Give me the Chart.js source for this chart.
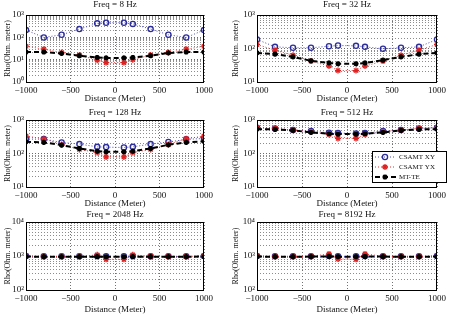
<!DOCTYPE html>
<html>
<head>
<meta charset="utf-8">
<script src="https://cdn.jsdelivr.net/npm/chart.js@4/dist/chart.umd.min.js"></script>
<style>
  html, body { margin: 0; padding: 0; background: #fff; }
  #wrap { position: relative; width: 449px; height: 319px; overflow: hidden; }
  .panel { position: absolute; }
</style>
</head>
<body>
<div id="wrap"></div>
<script>
// --- data ---
const stations = [-1000, -800, -600, -400, -200, -100, 100, 200, 400, 600, 800, 1000];
const freqs = [8, 32, 128, 512, 2048, 8192];
const seriesNames = ["CSAMT XY", "CSAMT YX", "MT-TE"];
const xTicks = [-1000, -500, 0, 500, 1000];
const yMinExp = [0, 1, 1, 1, 2, 2];
const yMaxExp = [3, 3, 3, 3, 4, 4];

// apparent resistivity, one row per frequency
const rhoXY = [
  [211, 99, 130, 234, 422, 452, 452, 400, 234, 130, 99, 211],
  [186, 112, 105, 105, 117, 123, 120, 112, 98, 105, 112, 186],
  [269, 269, 214, 191, 158, 155, 151, 158, 191, 220, 265, 280],
  [589, 562, 501, 468, 417, 407, 398, 407, 468, 501, 562, 589],
  [1000, 980, 980, 990, 1000, 980, 980, 1000, 990, 980, 980, 1000],
  [1000, 980, 980, 990, 1000, 980, 980, 1000, 990, 980, 980, 1000]
];
const rhoYX = [
  [40, 29.5, 21, 16, 9.5, 7.4, 7.4, 10, 16, 21, 29.5, 40],
  [132, 89, 63, 42, 30, 22, 22, 30, 42, 63, 89, 132],
  [331, 275, 186, 132, 107, 79, 79, 107, 132, 186, 275, 331],
  [603, 562, 501, 447, 372, 282, 282, 372, 447, 501, 562, 603],
  [1020, 960, 960, 970, 1080, 800, 800, 1080, 970, 960, 960, 1020],
  [1020, 960, 960, 980, 1150, 820, 800, 1150, 980, 960, 960, 1020]
];
const rhoTE = [
  [22, 22, 19, 15, 12.5, 12, 12, 12.5, 15, 20, 22, 22],
  [74, 68, 56, 43, 37, 35, 35, 37, 45, 56, 68, 74],
  [224, 214, 178, 141, 117, 112, 112, 117, 141, 182, 214, 230],
  [537, 525, 490, 427, 389, 380, 380, 389, 427, 490, 525, 537],
  [960, 955, 955, 955, 955, 950, 950, 955, 955, 955, 955, 960],
  [960, 955, 955, 960, 970, 955, 955, 965, 960, 955, 955, 960]
];

// --- layout: canvas box and plot area for each panel (page px) ---
const boxes = [
  { cx: 0,   cy: 0,   cw: 224, ch: 105, L: 26,  T: 15,  R: 204, B: 82 },
  { cx: 225, cy: 0,   cw: 224, ch: 105, L: 257, T: 15,  R: 438, B: 82 },
  { cx: 0,   cy: 105, cw: 224, ch: 105, L: 26,  T: 120, R: 204, B: 187 },
  { cx: 225, cy: 105, cw: 224, ch: 105, L: 257, T: 120, R: 438, B: 187 },
  { cx: 0,   cy: 210, cw: 224, ch: 109, L: 26,  T: 222, R: 204, B: 290 },
  { cx: 225, cy: 210, cw: 224, ch: 109, L: 257, T: 222, R: 438, B: 290 }
];

const FONT = '"Liberation Serif", "Times New Roman", serif';
Chart.defaults.font.family = FONT;
Chart.defaults.color = "#111";

const SUP = { "0": "\u2070", "1": "\u00b9", "2": "\u00b2", "3": "\u00b3", "4": "\u2074" };
const isPow10 = v => Math.abs(Math.log10(v) - Math.round(Math.log10(v))) < 1e-9;

function drawMarker(ctx, ds, x, y) {
  ctx.save();
  ctx.strokeStyle = ds.pointBorderColor;
  ctx.fillStyle = ds.pointBackgroundColor;
  ctx.lineWidth = ds.pointBorderWidth;
  if (Chart.helpers && Chart.helpers.drawPoint) {
    Chart.helpers.drawPoint(ctx, { pointStyle: ds.pointStyle, radius: ds.pointRadius, rotation: 0, borderWidth: ds.pointBorderWidth }, x, y);
  } else {
    ctx.beginPath();
    ctx.arc(x, y, ds.pointRadius, 0, Math.PI * 2);
    ctx.fill();
    ctx.stroke();
  }
  ctx.restore();
}

// box, panel title and (optional) legend
const framePlugin = {
  id: "frame",
  afterDraw(chart, args, opts) {
    const { ctx, chartArea: a } = chart;
    ctx.save();
    ctx.strokeStyle = "#000";
    ctx.lineWidth = 1;
    ctx.strokeRect(Math.round(a.left) + 0.5, Math.round(a.top) + 0.5,
      Math.round(a.right - a.left) - 1, Math.round(a.bottom - a.top));
    ctx.fillStyle = "#111";
    ctx.font = "9px " + FONT;
    ctx.textAlign = "center";
    ctx.textBaseline = "middle";
    ctx.fillText(opts.title, (a.left + a.right) / 2, a.top - opts.titleGap);

    if (opts.legend) {
      const lg = opts.legend;
      ctx.fillStyle = "#fff";
      ctx.fillRect(lg.x, lg.y, lg.w, lg.h);
      ctx.strokeStyle = "#000";
      ctx.strokeRect(lg.x + 0.5, lg.y + 0.5, lg.w, lg.h);
      ctx.font = "7px " + FONT;
      ctx.textAlign = "left";
      [0, 1, 2].forEach((k, i) => {
        const ds = chart.data.datasets[k];
        const ry = lg.y + 6 + i * 10;
        ctx.save();
        ctx.strokeStyle = ds.borderColor;
        ctx.lineWidth = ds.borderWidth;
        ctx.setLineDash(ds.borderDash);
        ctx.beginPath();
        ctx.moveTo(lg.x + 3, ry);
        ctx.lineTo(lg.x + 24, ry);
        ctx.stroke();
        ctx.restore();
        drawMarker(ctx, ds, lg.x + 13, ry);
        ctx.fillStyle = "#111";
        ctx.fillText(ds.label, lg.x + 27, ry);
      });
    }
    ctx.restore();
  }
};

const wrap = document.getElementById("wrap");

freqs.forEach((f, i) => {
  const b = boxes[i];
  const div = document.createElement("div");
  div.className = "panel";
  div.style.left = b.cx + "px";
  div.style.top = b.cy + "px";
  const cv = document.createElement("canvas");
  cv.width = b.cw;
  cv.height = b.ch;
  cv.style.width = b.cw + "px";
  cv.style.height = b.ch + "px";
  div.appendChild(cv);
  wrap.appendChild(div);

  const yTickVals = [];
  for (let e = yMinExp[i]; e < yMaxExp[i]; e++) {
    for (let s = 1; s < 10; s++) yTickVals.push(s * Math.pow(10, e));
  }
  yTickVals.push(Math.pow(10, yMaxExp[i]));

  const xyPts = stations.map((x, k) => ({ x, y: rhoXY[i][k] }));
  const yxPts = stations.map((x, k) => ({ x, y: rhoYX[i][k] }));
  const tePts = stations.map((x, k) => ({ x, y: rhoTE[i][k] }));

  new Chart(cv, {
    type: "line",
    data: {
      datasets: [
        {
          label: seriesNames[0],
          data: xyPts,
          order: 2,
          borderColor: "#4a4ab0",
          borderWidth: 1,
          borderDash: [1, 2],
          pointStyle: "circle",
          pointRadius: 2.6,
          pointBorderWidth: 1.3,
          pointBorderColor: "#2c2c9c",
          pointBackgroundColor: "rgba(255,255,255,0)"
        },
        {
          label: seriesNames[1],
          data: yxPts,
          order: 1,
          borderColor: "#e03030",
          borderWidth: 1,
          borderDash: [1, 2],
          pointStyle: "star",
          pointRadius: 3,
          pointBorderWidth: 1.3,
          pointBorderColor: "#e02020",
          pointBackgroundColor: "#e02020"
        },
        {
          label: seriesNames[2],
          data: tePts,
          order: 0,
          borderColor: "#000",
          borderWidth: 2,
          borderDash: [5, 3],
          pointStyle: "star",
          pointRadius: 2.6,
          pointBorderWidth: 1.6,
          pointBorderColor: "#000",
          pointBackgroundColor: "#000"
        }
      ]
    },
    options: {
      responsive: false,
      animation: false,
      events: [],
      layout: {
        padding: { left: 0, top: b.T - b.cy, right: b.cx + b.cw - b.R, bottom: 0 }
      },
      elements: { line: { tension: 0 } },
      plugins: {
        legend: { display: false },
        title: { display: false },
        tooltip: { enabled: false },
        frame: {
          title: "Freq = " + f + " Hz",
          titleGap: i < 2 ? 10 : 7,
          legend: i === 3 ? { x: 147, y: 46, w: 74, h: 31 } : null
        }
      },
      scales: {
        x: {
          type: "linear",
          min: -1000,
          max: 1000,
          afterBuildTicks: s => { s.ticks = xTicks.map(v => ({ value: v })); },
          afterFit: s => { s.height = b.cy + b.ch - b.B; },
          ticks: {
            autoSkip: false,
            maxRotation: 0,
            padding: 3,
            font: { size: 9 },
            callback: v => (v < 0 ? "\u2212" + Math.abs(v) : String(v))
          },
          grid: { color: "#707070", lineWidth: 1, drawTicks: false },
          border: { display: false, dash: [1, 2] },
          title: {
            display: true,
            text: "Distance (Meter)",
            font: { size: 9 },
            padding: { top: 0, bottom: i < 4 ? 1 : 4 }
          }
        },
        y: {
          type: "logarithmic",
          min: Math.pow(10, yMinExp[i]),
          max: Math.pow(10, yMaxExp[i]),
          afterBuildTicks: s => { s.ticks = yTickVals.map(v => ({ value: v })); },
          afterFit: s => { s.width = b.L - b.cx; },
          ticks: {
            autoSkip: false,
            padding: 2,
            font: { size: 9 },
            callback: v => {
              if (!isPow10(v)) return "";
              const e = String(Math.round(Math.log10(v)));
              return "10" + e.split("").map(c => SUP[c]).join("");
            }
          },
          grid: {
            drawTicks: false,
            lineWidth: 1,
            color: c => (c.tick && isPow10(c.tick.value) ? "#6a6a6a" : "#8c8c8c")
          },
          border: { display: false, dash: [1, 2] },
          title: {
            display: true,
            text: "Rho(Ohm. meter)",
            font: { size: 8 },
            padding: { top: i % 2 === 0 ? 3 : 6, bottom: 0 }
          }
        }
      }
    },
    plugins: [framePlugin]
  });
});
</script>
</body>
</html>
